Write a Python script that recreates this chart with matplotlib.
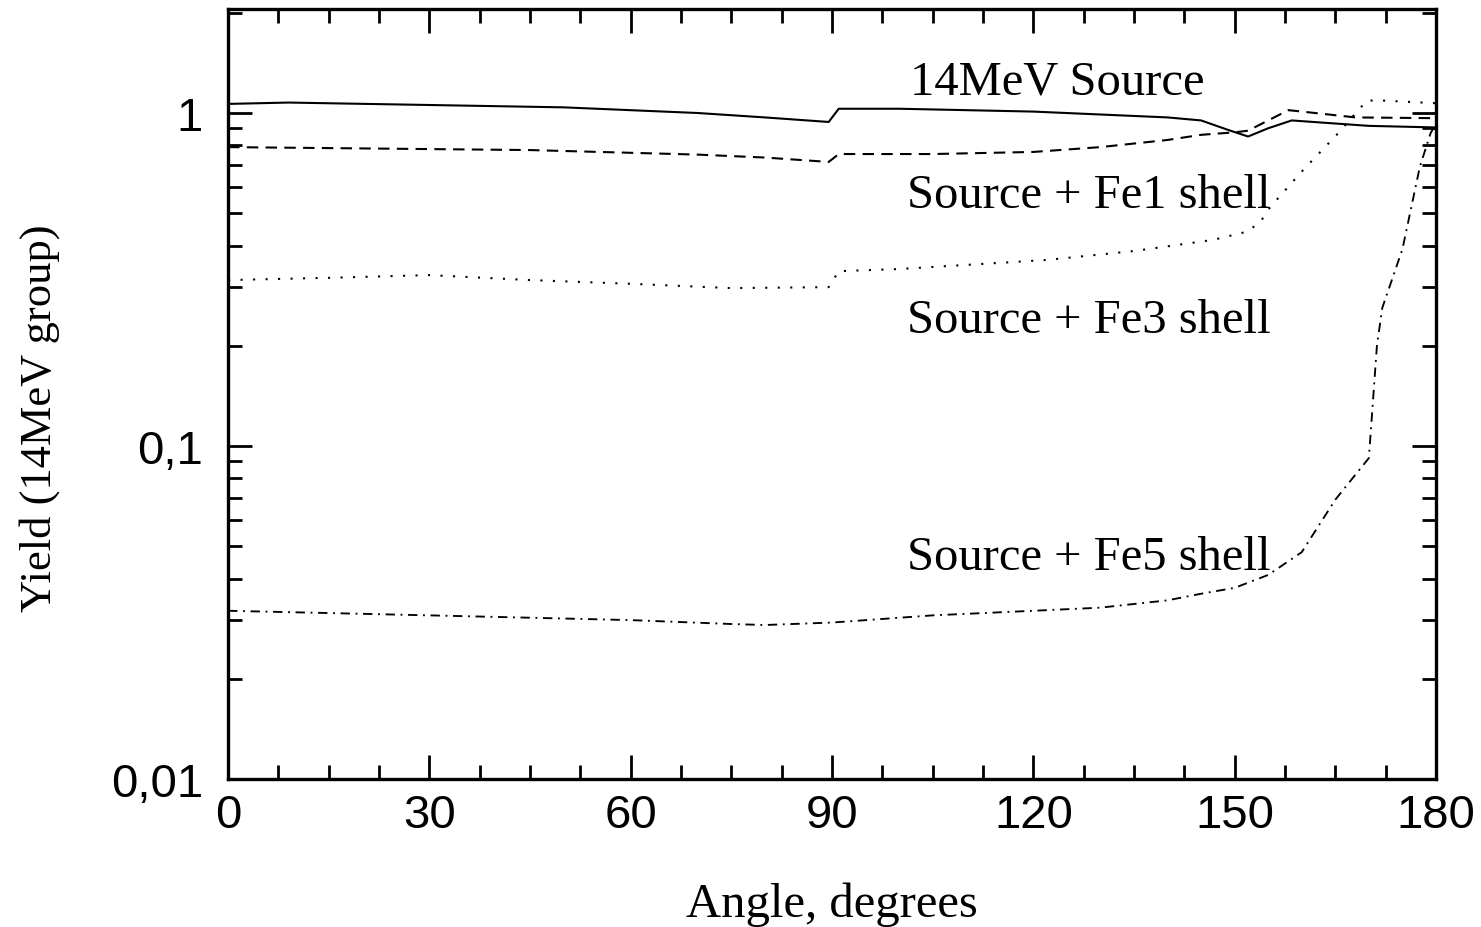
import numpy as np
import matplotlib
matplotlib.use("Agg")
import matplotlib.pyplot as plt
from matplotlib.ticker import FixedLocator, FixedFormatter, LogLocator, NullFormatter, MultipleLocator

# --- data ---
ang_src = [0, 9, 30, 50, 70, 80, 89.5, 91, 100, 120, 140, 145, 149, 152, 155, 158.5, 165, 170, 180]
y_src = [1.065, 1.075, 1.057, 1.04, 1.0, 0.97, 0.94, 1.03, 1.03, 1.01, 0.97, 0.95, 0.89, 0.85, 0.9, 0.95, 0.93, 0.915, 0.905]

ang_fe1 = [0, 45, 70, 80, 89.5, 91, 105, 120, 130, 140, 145, 150, 152, 155, 158, 162, 168, 180]
y_fe1 = [0.79, 0.774, 0.75, 0.735, 0.713, 0.753, 0.753, 0.764, 0.79, 0.83, 0.86, 0.875, 0.885, 0.95, 1.02, 1.0, 0.97, 0.965]

ang_fe3 = [0, 15, 30, 45, 60, 75, 89.5, 91, 100, 122, 135, 146.8, 151.8, 153.8, 155.3, 160.2, 165.2, 169.7, 172, 180]
y_fe3 = [0.315, 0.32, 0.326, 0.315, 0.307, 0.298, 0.30, 0.335, 0.34, 0.362, 0.385, 0.416, 0.44, 0.47, 0.522, 0.674, 0.86, 1.09, 1.09, 1.07]

ang_fe5 = [0, 15, 30, 45, 60, 75, 80, 90, 105, 120, 130, 140, 145, 150, 155, 160, 165, 170, 171.2, 172, 175, 177.6, 179.2, 180]
y_fe5 = [0.032, 0.0315, 0.031, 0.0305, 0.030, 0.0292, 0.029, 0.0295, 0.031, 0.032, 0.0327, 0.0344, 0.036, 0.0375, 0.041, 0.048, 0.069, 0.092, 0.2, 0.26, 0.39, 0.69, 0.87, 0.93]

labels = ["14MeV Source", "Source + Fe1 shell", "Source + Fe3 shell", "Source + Fe5 shell"]
label_x = [101.6, 101.2, 101.2, 101.2]
label_y = [1.24, 0.567, 0.239, 0.0465]

serif = ["Liberation Serif", "DejaVu Serif"]
sans = ["Liberation Sans", "DejaVu Sans"]

fig = plt.figure(figsize=(14.81, 9.28), dpi=100)
ax = fig.add_axes([0.154, 0.1595, 0.8156, 0.8295])

lw = 1.5
ax.plot(ang_src, y_src, color="black", lw=lw, linestyle="-")
ax.plot(ang_fe1, y_fe1, color="black", lw=lw, linestyle=(0, (5.5, 3.5)))
ax.plot(ang_fe3, y_fe3, color="black", lw=lw, linestyle=(0, (1, 5)))
ax.plot(ang_fe5, y_fe5, color="black", lw=lw * 0.9, linestyle=(0, (5, 3, 1, 3)))

for t, x, y in zip(labels, label_x, label_y):
    ax.text(x, y, t, ha="left", va="center", fontsize=35, family=serif)

ax.set_yscale("log")
ax.set_xlim(0, 180)
ax.set_ylim(0.01, 2.05)

ax.xaxis.set_major_locator(MultipleLocator(30))
ax.xaxis.set_minor_locator(MultipleLocator(7.5))
ax.yaxis.set_major_locator(FixedLocator([0.01, 0.1, 1]))
ax.yaxis.set_major_formatter(FixedFormatter(["0,01", "0,1", "1"]))
ax.yaxis.set_minor_locator(LogLocator(base=10, subs=np.arange(2, 10)))
ax.yaxis.set_minor_formatter(NullFormatter())

ax.tick_params(which="both", direction="in", top=True, right=True, width=2)
ax.tick_params(which="major", length=17)
ax.tick_params(which="minor", length=10)
ax.tick_params(axis="x", which="major", pad=10, labelsize=34)
ax.tick_params(axis="y", which="major", pad=18, labelsize=34)
for lab in ax.get_xticklabels() + ax.get_yticklabels():
    lab.set_family(sans)

for sp in ax.spines.values():
    sp.set_linewidth(2.4)

ax.set_xlabel("Angle, degrees", fontsize=35, family=serif, labelpad=32)
ax.set_ylabel("Yield (14MeV group)", fontsize=32, family=serif)
ax.yaxis.set_label_coords(-0.139, 0.47)

fig.savefig("out.png", dpi=100)
